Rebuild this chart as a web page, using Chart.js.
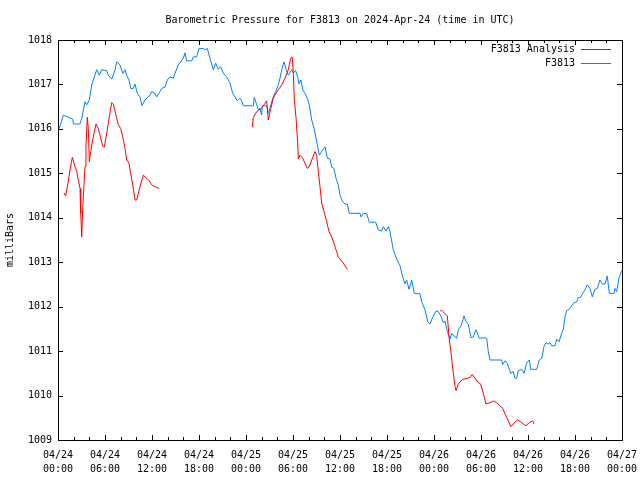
<!DOCTYPE html>
<html>
<head>
<meta charset="utf-8">
<script src="https://cdn.jsdelivr.net/npm/chart.js@4.4.1/dist/chart.umd.min.js"></script>
<style>
html,body{margin:0;padding:0;background:#fff;}
#c{display:block;}
</style>
</head>
<body>
<canvas id="c" width="640" height="480"></canvas>
<script>
// ---- data (hours since 2024-04-24 00:00 UTC) ----
const titleText = 'Barometric Pressure for F3813 on 2024-Apr-24 (time in UTC)';
const yAxisLabel = 'milliBars';
const seriesNames = ['F3813 Analysis', 'F3813'];

const xTickHours = [0, 6, 12, 18, 24, 30, 36, 42, 48, 54, 60, 66, 72];
const xTickDates = ['04/24','04/24','04/24','04/24','04/25','04/25','04/25','04/25','04/26','04/26','04/26','04/26','04/27'];
const xTickTimes = ['00:00','06:00','12:00','18:00','00:00','06:00','12:00','18:00','00:00','06:00','12:00','18:00','00:00'];
const yTickValues = [1009, 1010, 1011, 1012, 1013, 1014, 1015, 1016, 1017, 1018];

const stationHours = [0.17,0.68,1.88,1.98,2.81,3.03,3.45,3.66,4.0,4.3,4.72,4.94,5.27,5.58,6.22,6.42,6.86,7.28,7.49,7.91,8.26,8.55,8.77,9.06,9.28,9.61,9.83,10.12,10.47,10.72,11.11,11.4,11.74,11.96,12.38,12.6,13.02,13.24,13.66,13.95,14.3,14.72,14.94,15.36,16.0,16.21,16.43,17.07,17.27,17.71,18.0,18.55,18.77,19.06,19.4,19.83,20.13,20.46,20.77,21.1,21.54,21.96,22.3,22.6,22.89,23.23,23.45,23.66,24.93,25.06,25.37,25.57,25.79,26.0,26.08,26.64,26.85,27.06,27.28,27.49,27.79,28.12,28.34,28.56,28.85,29.2,29.4,29.83,30.04,30.34,30.6,30.77,31.02,31.24,31.53,31.83,32.08,32.39,32.68,32.94,33.1,33.36,33.66,34.09,34.38,34.72,34.94,35.23,35.49,35.78,36.0,36.34,36.64,36.93,37.19,38.55,38.68,38.98,39.41,39.74,40.56,40.89,41.32,41.53,41.87,42.17,42.38,42.8,43.24,43.66,44.0,44.3,44.51,44.81,45.15,45.49,46.21,46.43,46.85,47.2,47.49,47.83,48.25,48.54,48.85,49.19,49.4,49.7,50.04,50.26,50.55,50.9,51.1,51.45,51.83,52.09,52.38,52.72,53.01,53.36,53.78,54.29,54.73,54.93,55.15,56.64,56.77,57.06,57.35,57.79,58.12,58.34,58.56,58.76,59.19,59.49,59.83,60.17,60.34,61.11,61.44,61.75,62.04,62.3,62.59,62.81,63.02,63.45,63.66,63.96,64.3,64.51,64.72,64.94,65.27,65.58,65.87,66.22,66.42,66.73,66.98,67.28,67.57,67.92,68.21,68.55,68.85,69.19,69.49,69.83,70.12,70.38,70.98,71.11,71.32,71.65,71.96];
const stationValues = [1016.01,1016.31,1016.22,1016.11,1016.11,1016.24,1016.61,1016.54,1016.65,1016.99,1017.21,1017.33,1017.21,1017.33,1017.31,1017.21,1017.12,1017.33,1017.51,1017.44,1017.25,1017.33,1017.21,1017.10,1016.91,1016.91,1017.01,1016.80,1016.72,1016.52,1016.65,1016.70,1016.76,1016.84,1016.80,1016.72,1016.84,1016.91,1016.94,1017.10,1017.17,1017.14,1017.25,1017.44,1017.59,1017.71,1017.53,1017.53,1017.62,1017.62,1017.81,1017.81,1017.78,1017.81,1017.59,1017.33,1017.48,1017.34,1017.40,1017.25,1017.17,1017.03,1016.80,1016.72,1016.63,1016.69,1016.63,1016.52,1016.52,1016.71,1016.54,1016.44,1016.46,1016.31,1016.52,1016.52,1016.36,1016.46,1016.61,1016.72,1016.84,1016.99,1017.14,1017.33,1017.51,1017.29,1017.21,1017.33,1017.26,1017.31,1017.17,1017.01,1017.10,1016.88,1016.80,1016.69,1016.54,1016.20,1016.01,1015.79,1015.64,1015.41,1015.49,1015.60,1015.34,1015.32,1015.14,1015.11,1014.89,1014.74,1014.51,1014.36,1014.31,1014.31,1014.10,1014.10,1014.02,1014.10,1014.09,1013.90,1013.90,1013.73,1013.70,1013.80,1013.70,1013.80,1013.69,1013.28,1013.07,1012.92,1012.67,1012.51,1012.60,1012.39,1012.60,1012.30,1012.29,1012.11,1011.93,1011.66,1011.61,1011.76,1011.90,1011.89,1011.80,1011.64,1011.68,1011.44,1011.27,1011.40,1011.34,1011.29,1011.48,1011.57,1011.79,1011.66,1011.61,1011.30,1011.32,1011.48,1011.29,1011.30,1011.29,1010.99,1010.80,1010.80,1010.70,1010.78,1010.73,1010.50,1010.54,1010.39,1010.39,1010.56,1010.59,1010.50,1010.73,1010.80,1010.59,1010.59,1010.80,1010.84,1011.10,1011.19,1011.16,1011.19,1011.12,1011.12,1011.27,1011.21,1011.40,1011.49,1011.77,1011.91,1011.94,1012.02,1012.09,1012.11,1012.21,1012.21,1012.30,1012.38,1012.49,1012.41,1012.22,1012.39,1012.41,1012.60,1012.51,1012.51,1012.69,1012.30,1012.30,1012.41,1012.34,1012.67,1012.81];

// null values mark gaps between analysis runs
const analysisHours = [0.77,0.98,1.31,1.53,1.83,2.17,2.39,2.59,2.81,2.9,3.03,3.15,3.32,3.45,3.57,3.74,3.87,4.0,4.17,4.43,4.6,4.85,5.14,5.36,5.71,5.91,6.22,6.55,6.86,7.06,7.4,7.7,8.0,8.26,8.55,8.77,9.06,9.28,9.54,9.83,10.05,10.25,10.56,10.89,11.32,11.66,11.96,12.38,12.93,
  18.0,
  24.8,24.93,25.28,25.57,25.87,26.21,26.64,26.85,26.97,27.28,27.49,27.79,28.12,28.56,28.98,29.4,29.7,29.91,30.04,30.17,30.38,30.6,30.68,30.89,31.24,31.53,31.83,32.04,32.39,32.81,33.02,33.23,33.45,33.66,33.96,34.3,34.6,34.94,35.23,35.49,35.78,36.09,36.42,36.93,
  42.0,
  48.77,48.98,49.7,49.95,50.13,50.39,50.68,50.81,51.1,51.54,51.83,52.26,52.6,52.89,53.23,53.66,53.96,54.29,54.64,55.15,55.66,56.0,56.43,56.77,57.19,57.49,57.79,58.21,58.63,59.06,59.4,59.74,60.17,60.6,60.77];
const analysisValues = [1014.56,1014.49,1014.81,1015.08,1015.36,1015.15,1015.04,1014.85,1014.66,1014.10,1013.57,1014.18,1014.74,1015.15,1015.60,1016.26,1016.01,1015.26,1015.49,1015.75,1015.90,1016.11,1016.01,1015.86,1015.61,1015.59,1015.90,1016.27,1016.59,1016.56,1016.31,1016.09,1016.01,1015.82,1015.56,1015.30,1015.23,1015.00,1014.74,1014.40,1014.40,1014.55,1014.76,1014.96,1014.89,1014.83,1014.74,1014.70,1014.66,
  null,
  1016.04,1016.26,1016.36,1016.43,1016.44,1016.52,1016.63,1016.20,1016.31,1016.54,1016.69,1016.79,1016.88,1016.99,1017.14,1017.33,1017.59,1017.61,1017.25,1016.65,1016.27,1015.68,1015.32,1015.41,1015.34,1015.23,1015.11,1015.14,1015.30,1015.49,1015.41,1015.04,1014.70,1014.33,1014.14,1013.91,1013.69,1013.57,1013.43,1013.28,1013.12,1013.05,1012.98,1012.84,
  null,
  1011.90,1011.92,1011.79,1011.27,1011.03,1010.61,1010.20,1010.11,1010.26,1010.35,1010.37,1010.39,1010.41,1010.48,1010.39,1010.29,1010.26,1010.05,1009.81,1009.84,1009.88,1009.84,1009.77,1009.71,1009.54,1009.43,1009.30,1009.38,1009.45,1009.41,1009.36,1009.32,1009.39,1009.43,1009.36];

const FONT = '"DejaVu Sans Mono", "Liberation Mono", monospace';
const RED = '#ff0000';
const BLUE = '#0080ff';

const toPts = (xs, ys) => xs.map((x, i) => ({ x: x, y: ys[i] }));

const framePlugin = {
  id: 'frame',
  afterDraw(chart) {
    const ctx = chart.ctx;
    const a = chart.chartArea;
    const xs = chart.scales.x, ys = chart.scales.y;
    ctx.save();
    ctx.strokeStyle = '#000';
    ctx.lineWidth = 1;
    // border
    ctx.strokeRect(Math.round(a.left) + 0.5, Math.round(a.top) + 0.5,
                   Math.round(a.right - a.left), Math.round(a.bottom - a.top));
    ctx.beginPath();
    // x ticks every 2 h, major every 6 h, inward on top and bottom
    for (let h = xs.min; h <= xs.max; h += 2) {
      const px = Math.round(xs.getPixelForValue(h)) + 0.5;
      const len = (h % 6 === 0) ? 5 : 3;
      ctx.moveTo(px, a.bottom); ctx.lineTo(px, a.bottom - len);
      ctx.moveTo(px, a.top); ctx.lineTo(px, a.top + len);
    }
    // y ticks, inward on left and right
    yTickValues.forEach(v => {
      const py = Math.round(ys.getPixelForValue(v)) + 0.5;
      ctx.moveTo(a.left, py); ctx.lineTo(a.left + 5, py);
      ctx.moveTo(a.right, py); ctx.lineTo(a.right - 5, py);
    });
    ctx.stroke();

    // title
    ctx.fillStyle = '#000';
    ctx.font = '10px ' + FONT;
    ctx.textAlign = 'center';
    ctx.textBaseline = 'middle';
    ctx.fillText(titleText, (a.left + a.right) / 2, 20);

    // y axis label
    ctx.save();
    ctx.translate(10, (a.top + a.bottom) / 2);
    ctx.rotate(-Math.PI / 2);
    ctx.fillText(yAxisLabel, 0, 0);
    ctx.restore();

    // legend
    ctx.textAlign = 'right';
    const colors = [RED, BLUE];
    seriesNames.forEach((name, i) => {
      const y = 49 + i * 14;
      ctx.fillStyle = '#000';
      ctx.fillText(name, 575, y);
      ctx.strokeStyle = colors[i];
      ctx.beginPath();
      ctx.moveTo(581, Math.round(y) + 0.5);
      ctx.lineTo(611, Math.round(y) + 0.5);
      ctx.stroke();
    });
    ctx.restore();
  }
};

new Chart(document.getElementById('c'), {
  type: 'line',
  data: {
    datasets: [
      {
        label: seriesNames[0],
        data: toPts(analysisHours, analysisValues),
        borderColor: RED,
        borderWidth: 1,
        pointRadius: 0,
        tension: 0,
        spanGaps: false,
        fill: false
      },
      {
        label: seriesNames[1],
        data: toPts(stationHours, stationValues),
        borderColor: BLUE,
        borderWidth: 1,
        pointRadius: 0,
        tension: 0,
        fill: false
      }
    ]
  },
  options: {
    responsive: false,
    animation: false,
    devicePixelRatio: 1,
    layout: { padding: { left: 0, right: 18, top: 40, bottom: 0 } },
    plugins: {
      legend: { display: false },
      title: { display: false },
      tooltip: { enabled: false }
    },
    scales: {
      x: {
        type: 'linear',
        min: 0,
        max: 72,
        grid: { display: false, drawTicks: false },
        border: { display: false },
        afterBuildTicks: s => { s.ticks = xTickHours.map(v => ({ value: v })); },
        afterFit: s => { s.height = 40; s.paddingLeft = 0; s.paddingRight = 0; },
        ticks: {
          autoSkip: false,
          maxRotation: 0,
          padding: 8,
          color: '#000',
          font: { family: FONT, size: 10, lineHeight: 1.4 },
          callback: v => {
            const i = xTickHours.indexOf(v);
            return i < 0 ? '' : [xTickDates[i], xTickTimes[i]];
          }
        }
      },
      y: {
        type: 'linear',
        min: 1009,
        max: 1018,
        grid: { display: false, drawTicks: false },
        border: { display: false },
        afterBuildTicks: s => { s.ticks = yTickValues.map(v => ({ value: v })); },
        afterFit: s => { s.width = 58; s.paddingTop = 0; s.paddingBottom = 0; },
        ticks: {
          padding: 6,
          color: '#000',
          font: { family: FONT, size: 10 },
          callback: v => String(v)
        }
      }
    }
  },
  plugins: [framePlugin]
});
</script>
</body>
</html>
